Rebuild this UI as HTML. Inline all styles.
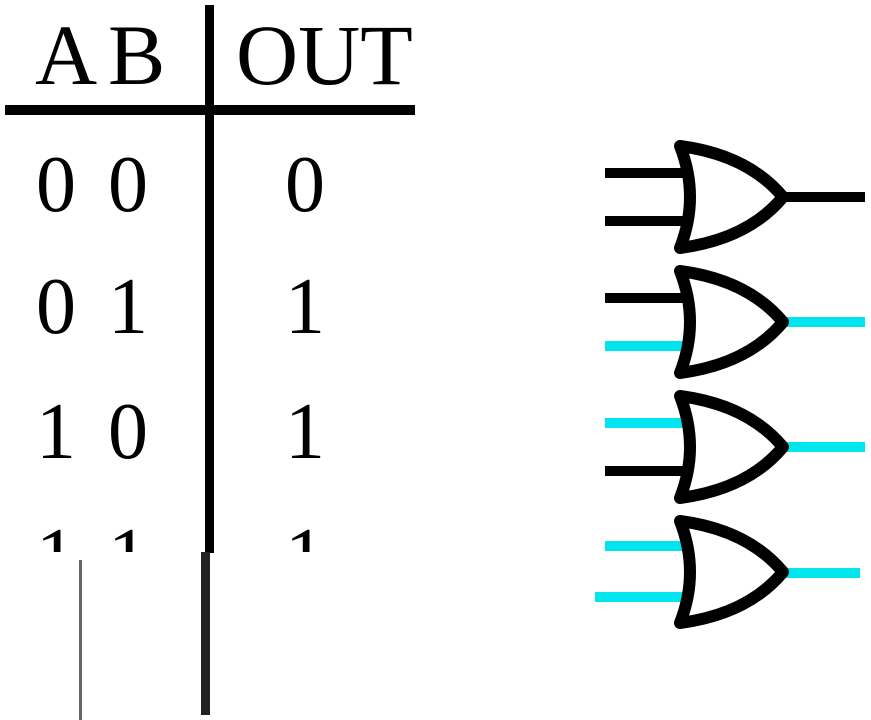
<!DOCTYPE html>
<html><head><meta charset="utf-8"><style>
html,body{margin:0;padding:0;background:#fff;}
svg{display:block;}
text{font-family:"Liberation Serif",serif;fill:#000;}
</style></head><body>
<svg width="871" height="720" viewBox="0 0 871 720">
<defs>
<clipPath id="topclip"><rect x="0" y="0" width="871" height="552"/></clipPath>
<g id="gate">
<path d="M680,-51 Q700,0 680,51 Q748,42 783,0 Q748,-42 680,-51 Z" fill="#fff" stroke="#000" stroke-width="12" stroke-linejoin="round"/>
</g>
</defs>
<g>
<text x="35" y="84" font-size="86">A</text>
<text x="108" y="84" font-size="86">B</text>
<text x="236" y="84" font-size="86">OUT</text>
<rect x="5" y="105" width="410" height="10" fill="#000"/>
<rect x="205" y="5" width="9" height="548" fill="#000"/>
<rect x="201" y="552" width="9" height="163" fill="#222"/>
<rect x="79" y="560" width="3" height="160" fill="#666"/>
<g font-size="80">
<text x="36" y="211">0</text>
<text x="108" y="211">0</text>
<text x="285" y="211">0</text>
<text x="36" y="333">0</text>
<text x="108" y="333">1</text>
<text x="285" y="333">1</text>
<text x="36" y="458">1</text>
<text x="108" y="458">0</text>
<text x="285" y="458">1</text>
<g clip-path="url(#topclip)">
<text x="36" y="583">1</text>
<text x="108" y="583">1</text>
<text x="285" y="583">1</text>
</g>
</g>
</g>
<g>
<rect x="605" y="168" width="80" height="10" fill="#000"/>
<rect x="605" y="216" width="80" height="10" fill="#000"/>
<rect x="780" y="192" width="85" height="10" fill="#000"/>
<use href="#gate" transform="translate(0,197)"/>
</g>
<g>
<rect x="605" y="293" width="80" height="10" fill="#000"/>
<rect x="605" y="341" width="80" height="10" fill="#00e5ee"/>
<rect x="780" y="317" width="85" height="10" fill="#00e5ee"/>
<use href="#gate" transform="translate(0,322)"/>
</g>
<g>
<rect x="605" y="418" width="80" height="10" fill="#00e5ee"/>
<rect x="605" y="466" width="80" height="10" fill="#000"/>
<rect x="780" y="442" width="85" height="10" fill="#00e5ee"/>
<use href="#gate" transform="translate(0,447)"/>
</g>
<g>
<rect x="605" y="541" width="80" height="10" fill="#00e5ee"/>
<rect x="595" y="592" width="90" height="10" fill="#00e5ee"/>
<rect x="780" y="568" width="80" height="10" fill="#00e5ee"/>
<use href="#gate" transform="translate(0,572)"/>
</g>
</svg>
</body></html>
